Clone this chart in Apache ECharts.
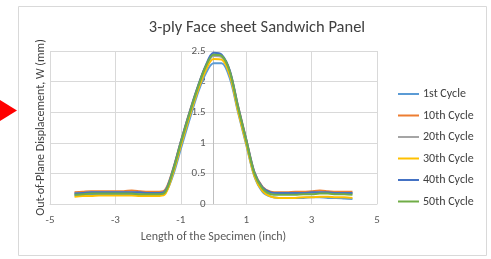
<!DOCTYPE html>
<html>
<head>
<meta charset="utf-8">
<script src="https://cdn.jsdelivr.net/npm/echarts@6/dist/echarts.min.js"></script>
<style>
  html, body { margin: 0; padding: 0; background: #fff; }
  #chart { width: 491px; height: 259px; }
</style>
</head>
<body>
<div id="chart"></div>
<script>
// position along the specimen (inch)
var xPos = [-4.25, -4, -3.75, -3.5, -3.25, -3, -2.75, -2.5, -2.25, -2, -1.75, -1.5, -1.25, -1, -0.75, -0.5, -0.25, 0,
  0.25, 0.5, 0.75, 1, 1.25, 1.5, 1.75, 2, 2.25, 2.5, 2.75, 3, 3.25, 3.5, 3.75, 4, 4.25];

var cycleNames = ['1st Cycle', '10th Cycle', '20th Cycle', '30th Cycle', '40th Cycle', '50th Cycle'];
var cycleColors = ['#5B9BD5', '#ED7D31', '#A5A5A5', '#FFC000', '#4472C4', '#70AD47'];

// out-of-plane displacement W (mm)
var w1st  = [0.14,0.15,0.15,0.16,0.16,0.16,0.16,0.16,0.15,0.15,0.15,0.17,0.45,0.9,1.35,1.78,2.12,2.3,2.3,2.05,1.5,0.97,0.45,0.2,0.12,0.1,0.1,0.1,0.1,0.11,0.11,0.1,0.1,0.09,0.08];
var w10th = [0.19,0.2,0.21,0.21,0.21,0.21,0.21,0.22,0.21,0.2,0.2,0.22,0.55,1.02,1.47,1.88,2.24,2.44,2.42,2.17,1.6,1.06,0.52,0.28,0.2,0.19,0.19,0.2,0.2,0.21,0.22,0.21,0.2,0.2,0.2];
var w20th = [0.17,0.18,0.19,0.19,0.19,0.19,0.19,0.19,0.18,0.18,0.18,0.2,0.53,1.0,1.45,1.86,2.22,2.42,2.4,2.15,1.57,1.04,0.5,0.26,0.18,0.17,0.17,0.17,0.18,0.18,0.19,0.18,0.18,0.18,0.17];
var w30th = [0.12,0.13,0.13,0.14,0.14,0.14,0.14,0.14,0.13,0.13,0.13,0.15,0.48,0.95,1.4,1.82,2.17,2.37,2.36,2.1,1.52,0.99,0.46,0.21,0.12,0.1,0.1,0.1,0.11,0.11,0.12,0.12,0.11,0.11,0.1];
var w40th = [0.17,0.18,0.19,0.19,0.19,0.19,0.19,0.19,0.19,0.18,0.18,0.2,0.54,1.02,1.47,1.89,2.25,2.47,2.44,2.18,1.6,1.06,0.52,0.27,0.19,0.18,0.18,0.18,0.18,0.19,0.19,0.19,0.18,0.18,0.18];
var w50th = [0.15,0.16,0.17,0.17,0.17,0.17,0.17,0.17,0.16,0.16,0.16,0.18,0.52,1.0,1.45,1.87,2.23,2.44,2.42,2.16,1.58,1.04,0.5,0.25,0.16,0.15,0.15,0.15,0.16,0.16,0.17,0.17,0.16,0.16,0.15];
var cycleData = [w1st, w10th, w20th, w30th, w40th, w50th];

var chart = echarts.init(document.getElementById('chart'));

var series = cycleNames.map(function (name, i) {
  return {
    name: name,
    type: 'line',
    smooth: 0.3,
    showSymbol: false,
    symbol: 'none',
    color: cycleColors[i],
    lineStyle: { width: 2, color: cycleColors[i] },
    data: xPos.map(function (x, j) { return [x, cycleData[i][j]]; })
  };
});

var font = 'Calibri, Carlito, "Liberation Sans", sans-serif';

chart.setOption({
  backgroundColor: '#fff',
  animation: false,
  textStyle: { fontFamily: font },
  graphic: [
    { type: 'rect', shape: { x: 18.5, y: 6.5, width: 468, height: 249 },
      style: { fill: 'none', stroke: '#d9d9d9', lineWidth: 1 } },
    { type: 'polygon', shape: { points: [[0, 100], [17, 110.5], [0, 121]] },
      style: { fill: '#ff0000' } }
  ],
  title: {
    text: '3-ply Face sheet Sandwich Panel',
    left: 252, top: 14, textAlign: 'center',
    textStyle: { fontSize: 16.5, fontWeight: 'normal', color: '#404040', fontFamily: font }
  },
  legend: {
    orient: 'vertical',
    left: 393, top: 83,
    icon: 'rect',
    itemWidth: 21, itemHeight: 2,
    itemGap: 9.5,
    textStyle: { fontSize: 12, color: '#404040', fontFamily: font, padding: [0, 0, 0, -1] },
    data: cycleNames
  },
  grid: { left: 50, right: 114, top: 51, bottom: 55, outerBoundsMode: 'none', containLabel: false },
  xAxis: {
    type: 'value',
    min: -5, max: 5, interval: 2,
    name: 'Length of the Specimen (inch)',
    nameLocation: 'middle', nameGap: 26,
    nameTextStyle: { fontSize: 12, color: '#595959' },
    axisLine: { onZero: false, lineStyle: { color: '#d9d9d9' } },
    axisTick: { show: false },
    axisLabel: { fontSize: 11, color: '#595959', margin: 11 },
    splitLine: { lineStyle: { color: '#d9d9d9' } }
  },
  yAxis: {
    type: 'value',
    min: 0, max: 2.5, interval: 0.5,
    offset: -163.5,
    name: 'Out-of-Plane Displacement, W (mm)',
    nameLocation: 'middle', nameGap: 167,
    nameTextStyle: { fontSize: 12, color: '#404040' },
    axisLine: { show: true, onZero: false, lineStyle: { color: '#bfbfbf' } },
    axisTick: { show: false },
    axisLabel: { fontSize: 11, color: '#595959', margin: 8 },
    splitLine: { lineStyle: { color: '#d9d9d9' } }
  },
  series: series
});
</script>
</body>
</html>
